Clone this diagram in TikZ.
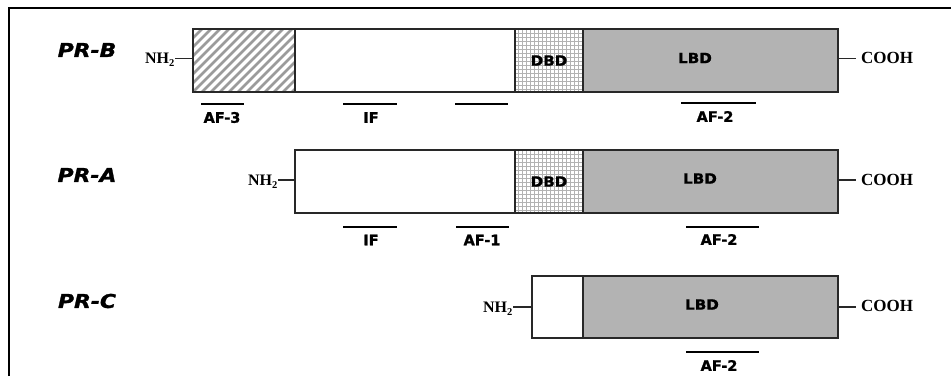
\documentclass[tikz,border=0pt]{standalone}
\usepackage{fontspec}
\setmainfont{Liberation Serif}
\newfontfamily\affont[FakeBold=1.3]{DejaVu Sans Bold}
\newfontfamily\domfont[FakeBold=1.3,FakeStretch=1.08]{DejaVu Sans Bold}
\newfontfamily\prfont[FakeBold=1.5,FakeStretch=1.15]{DejaVu Sans Bold Oblique}
\definecolor{lbdgray}{RGB}{179,179,179}
\definecolor{hatchgray}{RGB}{155,155,155}
\definecolor{gridgray}{RGB}{178,178,178}
\definecolor{edgegray}{RGB}{40,40,40}
\tikzset{
  seg/.style={draw=edgegray, line width=1.1pt, rectangle, inner sep=0pt, outer sep=0pt, anchor=north west},
  hatchfill/.style={path picture={
      \foreach \k in {-99,-90,...,120}{
        \draw[hatchgray, line width=2.8pt] ([xshift=\k pt]path picture bounding box.south west) -- ++(90,-90);}}},
  gridfill/.style={path picture={
      \foreach \k in {3,7,...,80}{
        \draw[gridgray, line width=0.75pt] ([xshift=\k pt]path picture bounding box.south west) -- ++(0,-70);
        \draw[gridgray, line width=0.75pt] ([yshift=\k pt]path picture bounding box.south west) -- ++(80,0);}}},
  lbdfill/.style={fill=lbdgray},
  prlabel/.style={font=\prfont\fontsize{19}{22}\selectfont, inner sep=0pt},
  domlabel/.style={font=\domfont\fontsize{14}{16}\selectfont, inner sep=0pt},
  aflabel/.style={font=\affont\fontsize{14.5}{16}\selectfont, inner sep=0pt},
  endlabel/.style={font=\bfseries\fontsize{17}{20}\selectfont, inner ysep=0pt},
  nhlabel/.style={font=\bfseries\fontsize{16}{18}\selectfont, inner ysep=0pt, inner xsep=0.5pt, anchor=base east},
  cooh/.style={endlabel, inner xsep=5pt, anchor=base west},
  conn/.style={draw=edgegray, line width=1.2pt},
  afbar/.style={line width=2.6pt, black}
}
\newcommand{\nhtwo}{NH\raisebox{-3pt}{\fontsize{10.5}{11}\selectfont 2}}
\begin{document}
\begin{tikzpicture}[x=1pt,y=-1pt]
\useasboundingbox (0,0) rectangle (951,376);
% frame
\draw[line width=1.6pt, black] (9,376) -- (9,8) -- (951,8);

% ---------- PR-B ----------
\node[prlabel] (lblB) at (87,50) {PR-B};
\node[seg, hatchfill, minimum width=102pt, minimum height=63pt] (b1) at (193,29) {};
\node[seg, minimum width=220pt, minimum height=63pt] (b2) at (295,29) {};
\node[seg, gridfill, minimum width=68pt, minimum height=63pt, font=\domfont\fontsize{14}{16}\selectfont] (b3) at (515,29) {DBD};
\node[seg, lbdfill, minimum width=255pt, minimum height=63pt] (b4) at (583,29) {};
\node[domlabel] (lbdB) at (695,58) {LBD};
\node[nhlabel] (nhB) at (175,63) {\nhtwo};
\draw[conn] ([yshift=2pt]b1.west) -- ([yshift=2pt]b1.west -| nhB.east);
\node[cooh] (coB) at (856,63) {COOH};
\draw[conn] ([yshift=2pt]b4.east) -- ([yshift=2pt]b4.east -| coB.west);
\draw[afbar] (201,104) -- (244,104);
\node[aflabel] (af3B) at (222,117.5) {AF-3};
\draw[afbar] (343,104) -- (397,104);
\node[aflabel] (ifB) at (371,117.5) {IF};
\draw[afbar] (455,104) -- (508,104);
\draw[afbar] (681,103) -- (756,103);
\node[aflabel] (af2B) at (715,116.5) {AF-2};

% ---------- PR-A ----------
\node[prlabel] (lblA) at (87,175) {PR-A};
\node[seg, minimum width=220pt, minimum height=63pt] (a2) at (295,150) {};
\node[seg, gridfill, minimum width=68pt, minimum height=63pt, font=\domfont\fontsize{14}{16}\selectfont] (a3) at (515,150) {DBD};
\node[seg, lbdfill, minimum width=255pt, minimum height=63pt] (a4) at (583,150) {};
\node[domlabel] (lbdA) at (700,178.5) {LBD};
\node[nhlabel] (nhA) at (278,185) {\nhtwo};
\draw[conn] ([yshift=1.5pt]a2.west) -- ([yshift=1.5pt]a2.west -| nhA.east);
\node[cooh] (coA) at (856,185) {COOH};
\draw[conn] ([yshift=1.5pt]a4.east) -- ([yshift=1.5pt]a4.east -| coA.west);
\draw[afbar] (343,227) -- (397,227);
\node[aflabel] (ifA) at (371,240) {IF};
\draw[afbar] (456,227) -- (509,227);
\node[aflabel] (af1A) at (482,240) {AF-1};
\draw[afbar] (686,227) -- (759,227);
\node[aflabel] (af2A) at (719,239.5) {AF-2};

% ---------- PR-C ----------
\node[prlabel] (lblC) at (87,301) {PR-C};
\node[seg, minimum width=51pt, minimum height=62pt] (c2) at (532,276) {};
\node[seg, lbdfill, minimum width=255pt, minimum height=62pt] (c4) at (583,276) {};
\node[domlabel] (lbdC) at (702,304.5) {LBD};
\node[nhlabel] (nhC) at (513,312) {\nhtwo};
\draw[conn] (c2.west) -- (c2.west -| nhC.east);
\node[cooh] (coC) at (856,311) {COOH};
\draw[conn] (c4.east) -- (c4.east -| coC.west);
\draw[afbar] (686,352) -- (759,352);
\node[aflabel] (af2C) at (719,365.5) {AF-2};
\end{tikzpicture}
\end{document}
